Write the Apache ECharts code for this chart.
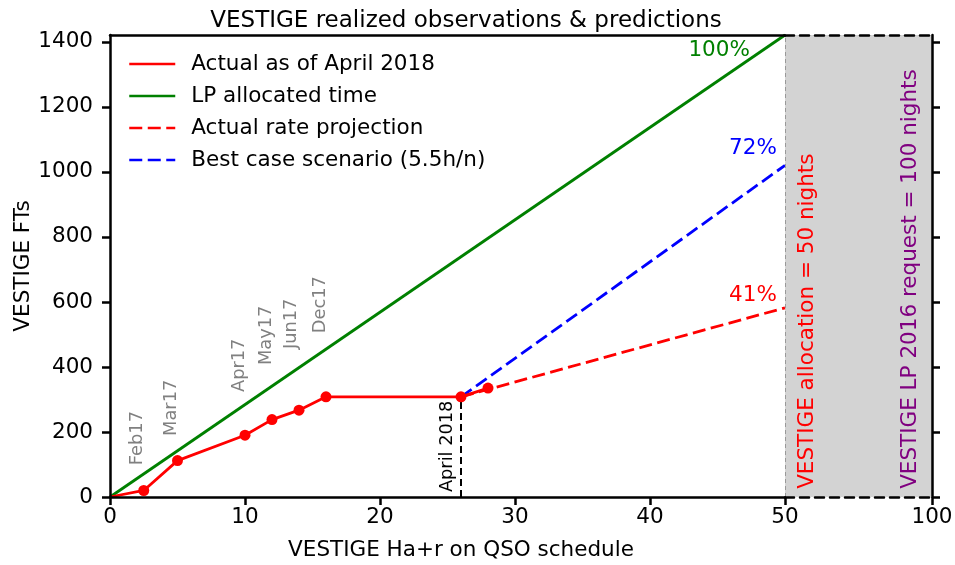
<!DOCTYPE html>
<html>
<head>
<meta charset="utf-8">
<script src="https://cdn.jsdelivr.net/npm/echarts/dist/echarts.min.js"></script>
<style>
  html, body { margin: 0; padding: 0; background: #fff; }
  #main { width: 955px; height: 565px; }
</style>
</head>
<body>
<div id="main"></div>
<script>
// actual FTs vs hours
const actualX = [0, 2.5, 5, 10, 12, 14, 16, 26, 28];
const actualY = [0, 20, 112, 190, 238, 267, 308, 308, 335];
// LP allocated time
const lpX = [0, 50];
const lpY = [0, 1421];
// projections from April 2018
const projX = [26, 50];
const projY = [308, 582];
const bestX = [26, 50];
const bestY = [308, 1020];
// April 2018 marker
const aprilX = [26, 26];
const aprilY = [0, 308];

const xTicksMain = [0, 10, 20, 30, 40, 50];
const xTicksRest = [100];
const yTicks = [0, 200, 400, 600, 800, 1000, 1200, 1400];
const yMax = 1421;

// month annotations (anchor = bottom of rotated text)
const monthLabels = ['Feb17', 'Mar17', 'Apr17', 'May17', 'Jun17', 'Dec17'];
const monthX = [2.0, 4.55, 9.6, 11.55, 13.4, 15.55];
const monthY = [98, 188, 323, 406, 455, 504];

const pctLabels = ['100%', '72%', '41%'];
const pctX = [47.4, 49.4, 49.4];
const pctY = [1375, 1072, 621];
const pctColors = ['#008000', '#0000ff', '#ff0000'];

const FONT = 'DejaVu Sans';
const FS = 21.5;
const pairs = (xs, ys) => xs.map((x, i) => [x, ys[i]]);

const chart = echarts.init(document.getElementById('main'));

const axisLine = { lineStyle: { color: '#000', width: 2.5 } };
const dashedLine = { lineStyle: { color: '#000', width: 2.5, type: [9, 6] } };
const tick = { inside: false, length: 8, lineStyle: { color: '#000', width: 2.5 } };
const label = { color: '#000', fontSize: FS, fontFamily: FONT };
const dash = [13, 5.5];

chart.setOption({
  animation: false,
  textStyle: { fontFamily: FONT },
  title: {
    text: 'VESTIGE realized observations & predictions',
    left: 461, top: 5, textAlign: 'center',
    textStyle: { fontSize: 23, fontWeight: 'normal', color: '#000', fontFamily: FONT }
  },
  legend: {
    orient: 'vertical',
    left: 128, top: 53, padding: 0,
    itemWidth: 46, itemHeight: 14, itemGap: 10,
    itemStyle: { opacity: 0 },
    lineStyle: { width: 2.5 },
    textStyle: { fontSize: FS, color: '#000', fontFamily: FONT, lineHeight: 22, padding: [0, 0, 0, 11] },
    data: ['Actual as of April 2018', 'LP allocated time', 'Actual rate projection', 'Best case scenario (5.5h/n)']
  },
  grid: [
    { left: 110, top: 35, width: 675, height: 462, outerBoundsMode: 'none', containLabel: false },
    { left: 785, top: 35, width: 147, height: 462, outerBoundsMode: 'none', containLabel: false }
  ],
  xAxis: [
    {
      gridIndex: 0, type: 'value', min: 0, max: 50, interval: 10, position: 'bottom', z: 5,
      axisLine: axisLine, axisTick: Object.assign({ customValues: xTicksMain }, tick),
      axisLabel: Object.assign({ margin: 9, customValues: xTicksMain }, label),
      splitLine: { show: false }
    },
    {
      gridIndex: 0, type: 'value', min: 0, max: 50, position: 'top', z: 5,
      axisLine: axisLine, axisTick: { show: false }, axisLabel: { show: false }, splitLine: { show: false }
    },
    {
      gridIndex: 1, type: 'value', min: 50, max: 100, interval: 50, position: 'bottom', z: 5,
      axisLine: dashedLine, axisTick: Object.assign({ customValues: xTicksRest }, tick),
      axisLabel: Object.assign({ margin: 9, customValues: xTicksRest }, label),
      splitLine: { show: false }
    },
    {
      gridIndex: 1, type: 'value', min: 50, max: 100, position: 'top', z: 5,
      axisLine: dashedLine, axisTick: { show: false }, axisLabel: { show: false }, splitLine: { show: false }
    }
  ],
  yAxis: [
    {
      gridIndex: 0, type: 'value', min: 0, max: yMax, position: 'left', z: 5,
      name: 'VESTIGE FTs', nameLocation: 'middle', nameGap: 76, nameMoveOverlap: false,
      nameTextStyle: { fontSize: FS, color: '#000', fontFamily: FONT },
      axisLine: axisLine, axisTick: Object.assign({ customValues: yTicks }, tick),
      axisLabel: Object.assign({ margin: 17, customValues: yTicks, formatter: v => String(v) }, label),
      splitLine: { show: false }
    },
    {
      gridIndex: 1, type: 'value', min: 0, max: yMax, position: 'right', z: 5,
      axisLine: axisLine, axisTick: Object.assign({ customValues: yTicks }, tick),
      axisLabel: { show: false }, splitLine: { show: false }
    }
  ],
  series: [
    {
      name: 'LP allocated time', type: 'line', xAxisIndex: 0, yAxisIndex: 0,
      data: pairs(lpX, lpY), symbol: 'none',
      lineStyle: { color: '#008000', width: 2.8 }, itemStyle: { color: '#008000' }
    },
    {
      name: 'Actual rate projection', type: 'line', xAxisIndex: 0, yAxisIndex: 0,
      data: pairs(projX, projY), symbol: 'none',
      lineStyle: { color: '#ff0000', width: 2.8, type: dash }, itemStyle: { color: '#ff0000' }
    },
    {
      name: 'Best case scenario (5.5h/n)', type: 'line', xAxisIndex: 0, yAxisIndex: 0,
      data: pairs(bestX, bestY), symbol: 'none',
      lineStyle: { color: '#0000ff', width: 2.8, type: dash }, itemStyle: { color: '#0000ff' }
    },
    {
      name: 'april', type: 'line', xAxisIndex: 0, yAxisIndex: 0,
      data: pairs(aprilX, aprilY), symbol: 'none',
      lineStyle: { color: '#000', width: 2, type: [7, 4] }
    },
    {
      name: 'Actual as of April 2018', type: 'line', xAxisIndex: 0, yAxisIndex: 0,
      data: pairs(actualX, actualY), symbol: 'none', z: 4,
      lineStyle: { color: '#ff0000', width: 2.8 }, itemStyle: { color: '#ff0000' }
    },
    {
      name: 'actual points', type: 'scatter', xAxisIndex: 0, yAxisIndex: 0,
      data: pairs(actualX, actualY).slice(1), symbolSize: 11, z: 4,
      itemStyle: { color: '#ff0000', opacity: 1 }
    },
    {
      name: 'allocation span', type: 'line', xAxisIndex: 2, yAxisIndex: 1, data: [],
      markArea: {
        silent: true,
        itemStyle: { color: '#d3d3d3' },
        data: [[{ xAxis: 50 }, { xAxis: 100 }]]
      },
      markLine: {
        silent: true, symbol: 'none', label: { show: false },
        lineStyle: { color: '#999', width: 1, type: [4, 3] },
        data: [{ xAxis: 50 }]
      }
    }
  ]
});

// annotations placed through the axes' coordinate conversion
const graphics = [];
const toPx = (x, y) => chart.convertToPixel({ xAxisIndex: 0, yAxisIndex: 0 }, [x, y]);
const toPxB = (x, y) => chart.convertToPixel({ xAxisIndex: 2, yAxisIndex: 1 }, [x, y]);

function vText(p, text, color, size) {
  graphics.push({
    type: 'text', x: p[0], y: p[1], rotation: Math.PI / 2, z: 10,
    style: { text: text, fill: color, font: size + 'px "' + FONT + '"', textAlign: 'left', textVerticalAlign: 'middle' }
  });
}

monthLabels.forEach((m, i) => vText(toPx(monthX[i], monthY[i]), m, '#808080', 17.8));
vText(toPx(25.0, 15), 'April 2018', '#000', 17.8);
vText(toPxB(57.5, 25), 'VESTIGE allocation = 50 nights', '#ff0000', FS);
vText(toPxB(92.5, 25), 'VESTIGE LP 2016 request = 100 nights', '#800080', FS);

pctLabels.forEach((t, i) => {
  const p = toPx(pctX[i], pctY[i]);
  graphics.push({
    type: 'text', x: p[0], y: p[1], z: 10,
    style: { text: t, fill: pctColors[i], font: FS + 'px "' + FONT + '"', textAlign: 'right', textVerticalAlign: 'middle' }
  });
});

graphics.push({
  type: 'text', x: 461, y: 550, z: 10,
  style: { text: 'VESTIGE Ha+r on QSO schedule', fill: '#000', font: FS + 'px "' + FONT + '"', textAlign: 'center', textVerticalAlign: 'middle' }
});

chart.setOption({ graphic: graphics });
</script>
</body>
</html>
